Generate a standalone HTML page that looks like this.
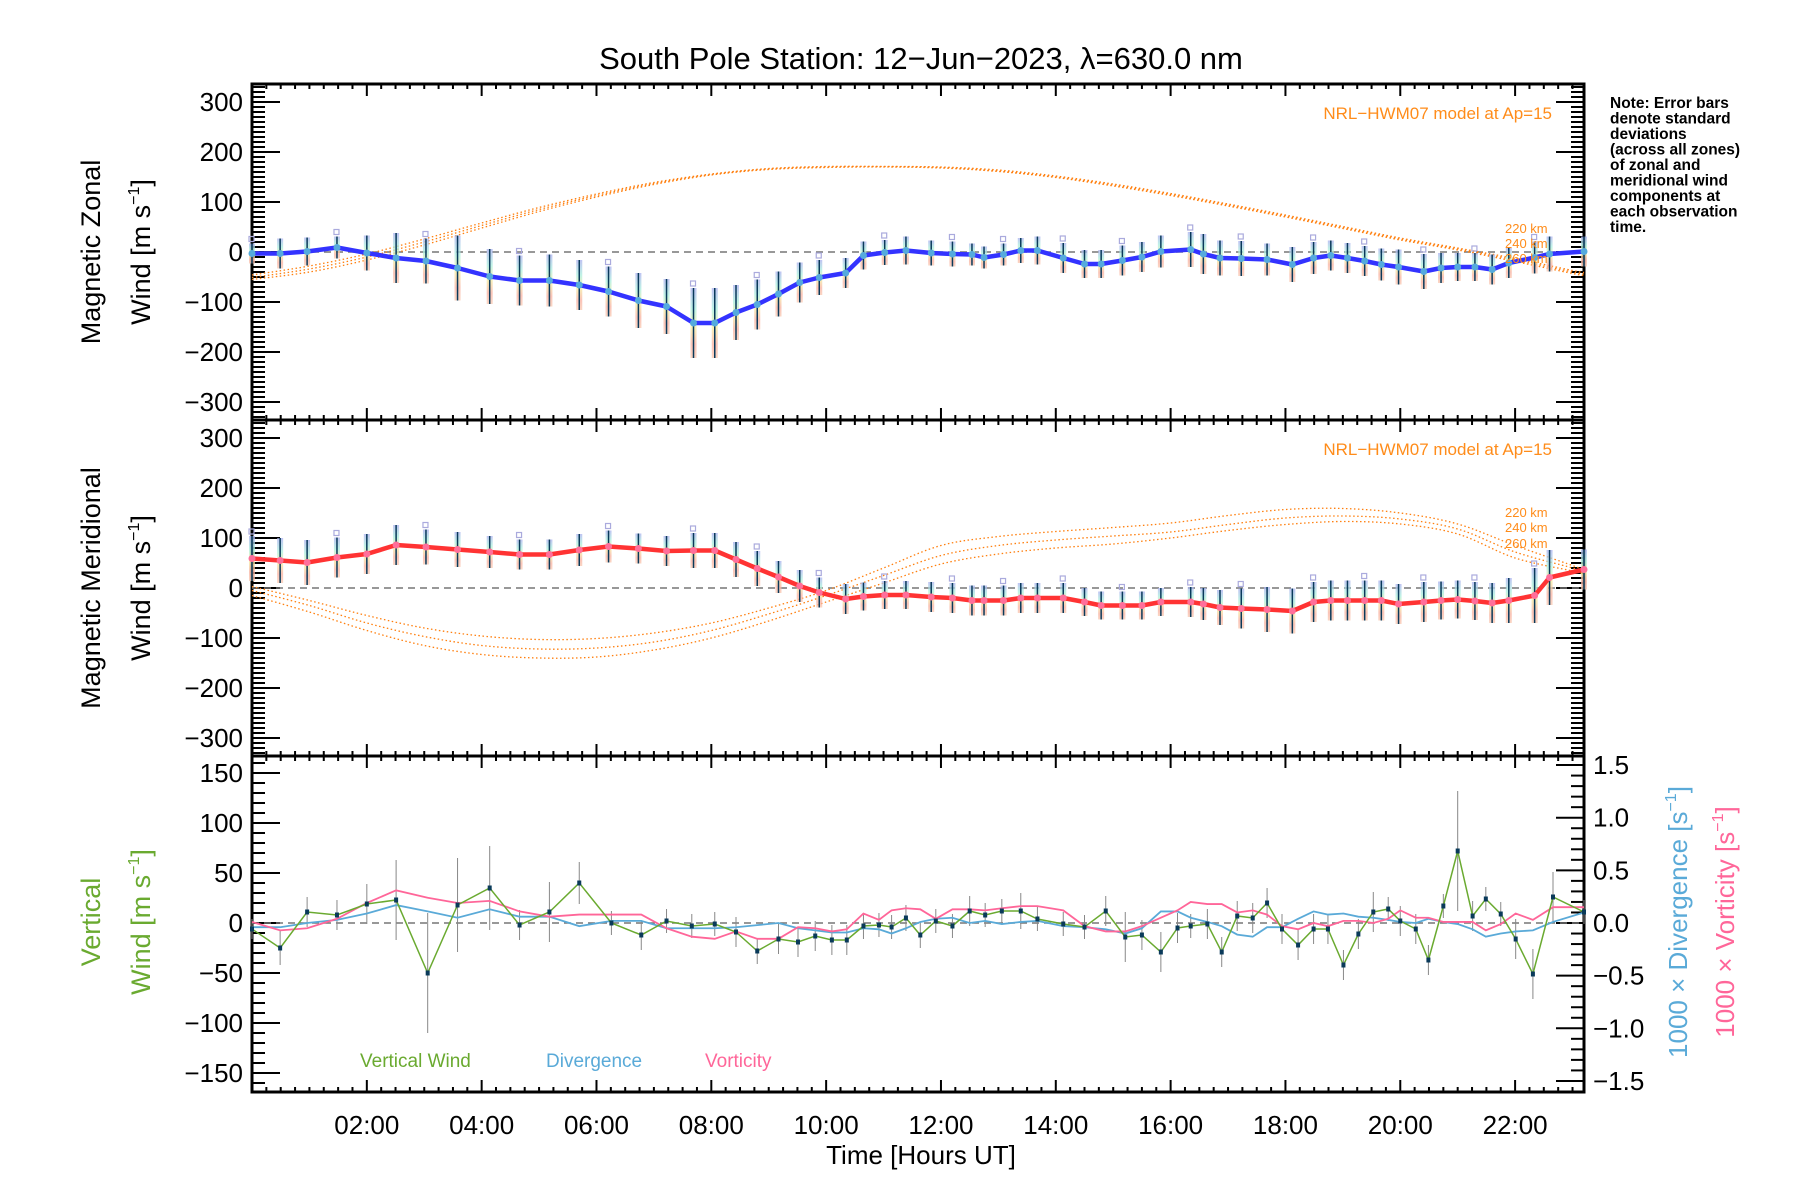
<!DOCTYPE html>
<html><head><meta charset="utf-8"><title>South Pole Station winds</title>
<style>
html,body{margin:0;padding:0;background:#fff;}
svg{display:block;font-family:"Liberation Sans",sans-serif;}
</style></head>
<body>
<svg id="chart" xmlns="http://www.w3.org/2000/svg" width="1800" height="1200" viewBox="0 0 1800 1200">
<defs>
<linearGradient id="stripe" x1="0" y1="0" x2="0" y2="1">
<stop offset="0" stop-color="#aab0ee"/><stop offset="0.3" stop-color="#aaeedd"/><stop offset="0.55" stop-color="#f5eea0"/><stop offset="0.8" stop-color="#f8b0a0"/><stop offset="1" stop-color="#f8c8b0"/>
</linearGradient>
</defs>
<text x="921" y="69" font-size="31" text-anchor="middle">South Pole Station: 12−Jun−2023, λ=630.0 nm</text>
<g id="grid"></g>
<g id="marks"></g>
<text transform="translate(100,252) rotate(-90)" font-size="27" text-anchor="middle">Magnetic Zonal</text>
<text transform="translate(150,252) rotate(-90)" font-size="27" text-anchor="middle">Wind [m s<tspan font-size="16" dy="-11">−1</tspan><tspan dy="11">]</tspan></text>
<text transform="translate(100,588) rotate(-90)" font-size="27" text-anchor="middle">Magnetic Meridional</text>
<text transform="translate(150,588) rotate(-90)" font-size="27" text-anchor="middle">Wind [m s<tspan font-size="16" dy="-11">−1</tspan><tspan dy="11">]</tspan></text>
<text transform="translate(100,922) rotate(-90)" font-size="27" fill="#6aaa30" text-anchor="middle">Vertical</text>
<text transform="translate(150,922) rotate(-90)" font-size="27" fill="#6aaa30" text-anchor="middle">Wind [m s<tspan font-size="16" dy="-11">−1</tspan><tspan dy="11">]</tspan></text>
<text transform="translate(1687,922) rotate(-90)" font-size="26" fill="#5aaad8" text-anchor="middle">1000 × Divergence [s<tspan font-size="16" dy="-11">−1</tspan><tspan dy="11">]</tspan></text>
<text transform="translate(1734,922) rotate(-90)" font-size="26" fill="#ff6699" text-anchor="middle">1000 × Vorticity [s<tspan font-size="16" dy="-11">−1</tspan><tspan dy="11">]</tspan></text>
<text x="921" y="1164" font-size="26" text-anchor="middle">Time [Hours UT]</text>
<g font-size="15.5" font-weight="bold" fill="#000">
<text x="1610" y="108">Note: Error bars</text>
<text x="1610" y="123.5">denote standard</text>
<text x="1610" y="139">deviations</text>
<text x="1610" y="154.5">(across all zones)</text>
<text x="1610" y="170">of zonal and</text>
<text x="1610" y="185.5">meridional wind</text>
<text x="1610" y="201">components at</text>
<text x="1610" y="216.5">each observation</text>
<text x="1610" y="232">time.</text>
</g>
<text x="1552" y="119" font-size="17" fill="#ff8c1a" text-anchor="end">NRL−HWM07 model at Ap=15</text>
<text x="1552" y="455" font-size="17" fill="#ff8c1a" text-anchor="end">NRL−HWM07 model at Ap=15</text>
<g font-size="13" fill="#ff8c1a">
<text x="1505" y="233">220 km</text><text x="1505" y="248">240 km</text><text x="1505" y="263">260 km</text></g>
<g font-size="13" fill="#ff8c1a">
<text x="1505" y="517">220 km</text><text x="1505" y="532">240 km</text><text x="1505" y="548">260 km</text></g>
<text x="360" y="1067" font-size="19" fill="#6aaa30">Vertical Wind</text>
<text x="546" y="1067" font-size="19" fill="#5aaad8">Divergence</text>
<text x="705" y="1067" font-size="19" fill="#ff6699">Vorticity</text>
</svg>
<script>
// ---- data ----
const windHours = [0,0.49,0.96,1.48,2.0,2.51,3.03,3.58,4.14,4.66,5.18,5.7,6.21,6.73,7.22,7.69,8.06,8.43,8.8,9.17,9.54,9.88,10.34,10.65,11.02,11.39,11.83,12.2,12.54,12.75,13.09,13.39,13.68,14.13,14.5,14.79,15.16,15.5,15.83,16.35,16.57,16.86,17.23,17.68,18.12,18.49,18.79,19.08,19.38,19.67,19.97,20.41,20.71,21.0,21.3,21.6,21.89,22.34,22.6,23.2];
const zonalWind = [-3,-3,1,9,-2,-12,-18,-32,-49,-57,-57,-66,-79,-97,-109,-142,-142,-121,-105,-84,-61,-51,-42,-7,-1,3,-2,-4,-5,-11,-5,3,3,-12,-24,-24,-17,-10,1,5,-4,-12,-13,-15,-25,-12,-7,-12,-18,-25,-30,-39,-32,-30,-30,-35,-22,-11,-4,1];
const zonalSd = [20,30,28,22,35,50,45,65,55,50,52,50,50,55,55,70,70,55,50,45,40,35,30,28,25,28,25,25,22,22,22,25,28,30,28,28,30,30,32,35,40,35,35,32,35,32,30,30,30,32,35,35,30,28,28,30,30,32,35,30];
const meridWind = [59,55,51,61,68,86,82,77,72,67,67,76,83,79,74,75,75,57,39,22,4,-9,-22,-17,-14,-14,-18,-20,-25,-25,-25,-20,-20,-20,-28,-35,-35,-35,-28,-28,-32,-39,-41,-43,-46,-28,-25,-25,-25,-25,-32,-28,-25,-23,-26,-30,-25,-15,21,37];
const meridSd = [45,45,45,40,40,40,35,35,32,30,30,32,32,30,30,35,35,35,35,32,32,30,30,28,28,28,30,30,30,30,30,30,30,30,28,28,28,28,28,30,32,35,40,45,45,40,40,40,40,40,40,40,38,38,38,40,45,55,55,40];
const modelHours = [0,1,2,3,4,5,6,7,8,9,10,11,12,13,14,15,16,17,18,19,20,21,22,23,23.2];
const zonalModel220 = [-46,-28,-4,26,58,89,116,139,156,167,171,171,170,164,152,136,117,96,74,51,28,8,-13,-37,-41];
const zonalModel240 = [-51,-34,-10,20,53,85,113,137,155,166,170,171,169,162,150,134,115,94,72,49,26,6,-16,-40,-44];
const zonalModel260 = [-55,-40,-16,14,48,81,110,135,154,165,169,170,168,161,149,132,113,92,70,47,24,4,-19,-43,-47];
const meridModel220 = [3,-25,-55,-80,-96,-103,-101,-90,-70,-40,-5,40,85,103,113,121,130,145,157,159,150,128,85,45,36];
const meridModel240 = [-5,-35,-70,-97,-115,-122,-120,-108,-85,-52,-15,25,65,85,96,104,112,127,140,144,138,118,72,40,32];
const meridModel260 = [-15,-48,-85,-115,-133,-140,-138,-124,-100,-66,-28,10,48,68,80,88,100,115,127,133,128,108,60,34,28];
const vertHours = [0,0.49,0.96,1.48,2.0,2.51,3.06,3.58,4.14,4.66,5.18,5.7,6.26,6.78,7.22,7.66,8.06,8.43,8.8,9.17,9.51,9.81,10.1,10.36,10.65,10.92,11.14,11.39,11.64,11.91,12.2,12.5,12.77,13.06,13.39,13.68,14.13,14.5,14.87,15.21,15.5,15.83,16.12,16.35,16.64,16.89,17.16,17.43,17.68,17.94,18.22,18.49,18.74,19.01,19.27,19.53,19.79,20.0,20.27,20.49,20.75,21.0,21.26,21.49,21.75,22.01,22.31,22.66,23.2];
const vertWind = [-6,-25,11,8,19,23,-50,18,35,-2,11,40,0,-12,2,-3,-1,-9,-28,-16,-19,-13,-17,-17,-3,-2,-4,5,-12,2,-3,12,8,12,12,4,-1,-4,12,-14,-12,-29,-5,-3,-1,-29,7,5,20,-6,-22,-6,-6,-42,-11,11,14,2,-6,-37,17,72,7,24,9,-16,-51,26,11];
const vertErr = [10,17,15,15,20,40,60,47,42,15,30,21,12,15,12,12,12,15,13,15,15,15,15,15,13,12,12,13,13,12,12,15,12,12,18,12,12,12,15,25,15,20,15,12,15,15,15,15,15,15,15,15,15,15,15,20,12,15,15,15,12,60,15,12,12,20,25,25,12];
const divergence = [-0.04,-0.04,0,0.03,0.09,0.17,0.11,0.05,0.13,0.06,0.06,-0.03,0.02,0.02,-0.05,-0.05,-0.05,-0.04,-0.02,0,-0.05,-0.07,-0.09,-0.09,-0.05,-0.06,-0.1,-0.05,0.01,0.04,0.05,0,0.02,-0.01,0.01,0.02,-0.03,-0.04,-0.06,-0.1,-0.05,0.11,0.11,0.05,0.01,-0.03,-0.11,-0.13,-0.04,-0.04,0.04,0.11,0.08,0.09,0.06,0.05,0.03,0.01,0,0.04,0.01,-0.01,-0.06,-0.13,-0.1,-0.08,-0.07,0.01,0.1];
const vorticity = [0.01,-0.07,-0.05,0.04,0.19,0.31,0.24,0.19,0.21,0.11,0.06,0.08,0.08,0.08,-0.05,-0.13,-0.15,-0.08,-0.15,-0.15,-0.04,-0.05,-0.08,-0.06,0.09,0.03,0.12,0.14,0.13,0.04,0.13,0.13,0.12,0.14,0.16,0.16,0.12,-0.03,-0.08,-0.08,-0.03,0.05,0.12,0.2,0.18,0.18,0.1,0.12,0.08,-0.03,-0.06,0,-0.03,0.02,0.02,0,0.04,0.12,0.05,0.05,0.01,0.01,0.01,-0.07,-0.01,0.09,0.03,0.15,0.15];
const xTickHours = [2,4,6,8,10,12,14,16,18,20,22];
const xTickLabels = ["02:00","04:00","06:00","08:00","10:00","12:00","14:00","16:00","18:00","20:00","22:00"];
const windTicks = [-300,-200,-100,0,100,200,300];
const windTickLabels = ["−300","−200","−100","0","100","200","300"];
const vertTicks = [-150,-100,-50,0,50,100,150];
const vertTickLabels = ["−150","−100","−50","0","50","100","150"];
const rightTicks = [-1.5,-1.0,-0.5,0,0.5,1.0,1.5];
const rightTickLabels = ["−1.5","−1.0","−0.5","0.0","0.5","1.0","1.5"];

// ---- scales ----
const L=252,R=1584,XMAX=23.2;
const P=[{top:84,bot:420,zero:252},{top:420,bot:756,zero:588},{top:756,bot:1092,zero:923}];
function xs(h){return L+h/XMAX*(R-L);}
function yZ(v){return P[0].zero-v*0.5;}
function yM(v){return P[1].zero-v*0.5;}
function yV(v){return P[2].zero-v*1.0;}
function yR(v){return P[2].zero-v*105.3;}

const NS="http://www.w3.org/2000/svg";
const grid=document.getElementById('grid'), marks=document.getElementById('marks');
function mk(tag,attrs,parent){const e=document.createElementNS(NS,tag);for(const k in attrs)e.setAttribute(k,attrs[k]);parent.appendChild(e);return e;}
function ln(x1,y1,x2,y2,w,parent,name){const e=mk('line',{x1:x1,y1:y1,x2:x2,y2:y2,stroke:'#000','stroke-width':w},parent);


return e;}
function txt(x,y,s,size,anchor,parent,name){const e=mk('text',{x:x,y:y,'font-size':size,'text-anchor':anchor},parent);e.textContent=s;


return e;}

// ---- axes ----
P.forEach((p,i)=>{
  for(let m=0;m<=XMAX*4;m++){const h=m/4;const x=xs(h);const major=(m%8===0&&h>0);const len=major?12:5;
    ln(x,p.bot,x,p.bot-len,2,grid,'x-tick');ln(x,p.top,x,p.top+len,2,grid,'x-tick');}
  if(i<2){
    const yf=i===0?yZ:yM;
    for(let v=-330;v<=330;v+=10){const y=yf(v);if(y<p.top+1||y>p.bot-1)continue;const major=(v%100===0);const len=major?28:13;
      ln(L,y,L+len,y,2,grid,'y-tick');ln(R,y,R-len,y,2,grid,'y-tick-right');}
    windTicks.forEach((v,k)=>{txt(243,yf(v)+9,windTickLabels[k],26,'end',grid,'y-tick-label');});
  } else {
    for(let v=-160;v<=160;v+=10){const y=yV(v);const major=(v%50===0);ln(L,y,L+(major?28:13),y,2,grid,'vertical-y-tick');}
    for(let v=-15;v<=15;v++){const y=yR(v/10);const major=(v%5===0);ln(R,y,R-(major?28:13),y,2,grid,'right-y-tick');}
    vertTicks.forEach((v,k)=>{txt(243,yV(v)+9,vertTickLabels[k],26,'end',grid,'vertical-tick-label');});
    rightTicks.forEach((v,k)=>{txt(1593,yR(v)+9,rightTickLabels[k],26,'start',grid,'right-tick-label');});
  }
  const fr=mk('rect',{x:L,y:p.top,width:R-L,height:p.bot-p.top,fill:'none',stroke:'#000','stroke-width':3},grid);
  
  
  const z=mk('line',{x1:L,y1:p.zero,x2:R,y2:p.zero,stroke:'#777','stroke-width':1.5,'stroke-dasharray':'7,5'},grid);
  
  
});
xTickHours.forEach((h,k)=>{txt(xs(h),1134,xTickLabels[k],26,'middle',grid,'x-tick-label');});

// ---- helpers ----
function smoothPath(xsA,ysA){let d='M'+xsA[0]+','+ysA[0];for(let i=0;i<xsA.length-1;i++){
  const p0=i>0?i-1:i,p3=i+2<xsA.length?i+2:i+1;
  const c1x=xsA[i]+(xsA[i+1]-xsA[p0])/6,c1y=ysA[i]+(ysA[i+1]-ysA[p0])/6;
  const c2x=xsA[i+1]-(xsA[p3]-xsA[i])/6,c2y=ysA[i+1]-(ysA[p3]-ysA[i])/6;
  d+=' C'+c1x+','+c1y+' '+c2x+','+c2y+' '+xsA[i+1]+','+ysA[i+1];}return d;}
function model(arr,yf,name){const p=mk('path',{d:smoothPath(modelHours.map(xs),arr.map(yf)),fill:'none',stroke:'#ff7f0e','stroke-width':1.3,'stroke-dasharray':'1.5,2.5'},marks);
  
  }
function windSeries(vals,sd,yf,lineColor,ptColor,prefix){
  vals.forEach((v,i)=>{const x=xs(windHours[i]);
    const st=mk('rect',{x:x-3,y:yf(v+sd[i]),width:6,height:yf(v-sd[i])-yf(v+sd[i]),fill:'url(#stripe)',opacity:0.75},marks);
    
    
    if(i%3===0){const sq=mk('rect',{x:x-3,y:yf(v+sd[i]+8)-3,width:5,height:5,fill:'none',stroke:'#aaaadd','stroke-width':1.2},marks);
      
      }
    const eb=mk('line',{x1:x,y1:yf(v+sd[i]),x2:x,y2:yf(v-sd[i]),stroke:'#0a3a5a','stroke-width':1.5},marks);
    
    });
  const pl=mk('polyline',{points:vals.map((v,i)=>xs(windHours[i])+','+yf(v)).join(' '),fill:'none',stroke:lineColor,'stroke-width':4.5,'stroke-linejoin':'round'},marks);
  
  
  vals.forEach((v,i)=>{const c=mk('circle',{cx:xs(windHours[i]),cy:yf(v),r:3.5,fill:ptColor},marks);
    
    });
}

// ---- panel 1 & 2 ----
model(zonalModel220,yZ,'zonal-model-220km');model(zonalModel240,yZ,'zonal-model-240km');model(zonalModel260,yZ,'zonal-model-260km');
windSeries(zonalWind,zonalSd,yZ,'#3333ff','#55aadd','zonal');
model(meridModel220,yM,'meridional-model-220km');model(meridModel240,yM,'meridional-model-240km');model(meridModel260,yM,'meridional-model-260km');
windSeries(meridWind,meridSd,yM,'#ff3333','#ff6f9a','meridional');

// ---- panel 3 ----
vertWind.forEach((v,i)=>{const x=xs(vertHours[i]);
  const e=mk('line',{x1:x,y1:yV(v+vertErr[i]),x2:x,y2:yV(v-vertErr[i]),stroke:'#888','stroke-width':1},marks);
  
  });
const dv=mk('polyline',{points:divergence.map((v,i)=>xs(vertHours[i])+','+yR(v)).join(' '),fill:'none',stroke:'#5aaad8','stroke-width':1.8},marks);


const vo=mk('polyline',{points:vorticity.map((v,i)=>xs(vertHours[i])+','+yR(v)).join(' '),fill:'none',stroke:'#ff6699','stroke-width':1.8},marks);


const vw=mk('polyline',{points:vertWind.map((v,i)=>xs(vertHours[i])+','+yV(v)).join(' '),fill:'none',stroke:'#6aaa30','stroke-width':1.5},marks);


vertWind.forEach((v,i)=>{const r=mk('rect',{x:xs(vertHours[i])-2,y:yV(v)-2.5,width:4,height:5,fill:'#0a3a5a'},marks);
  
  });
</script>
</body></html>
